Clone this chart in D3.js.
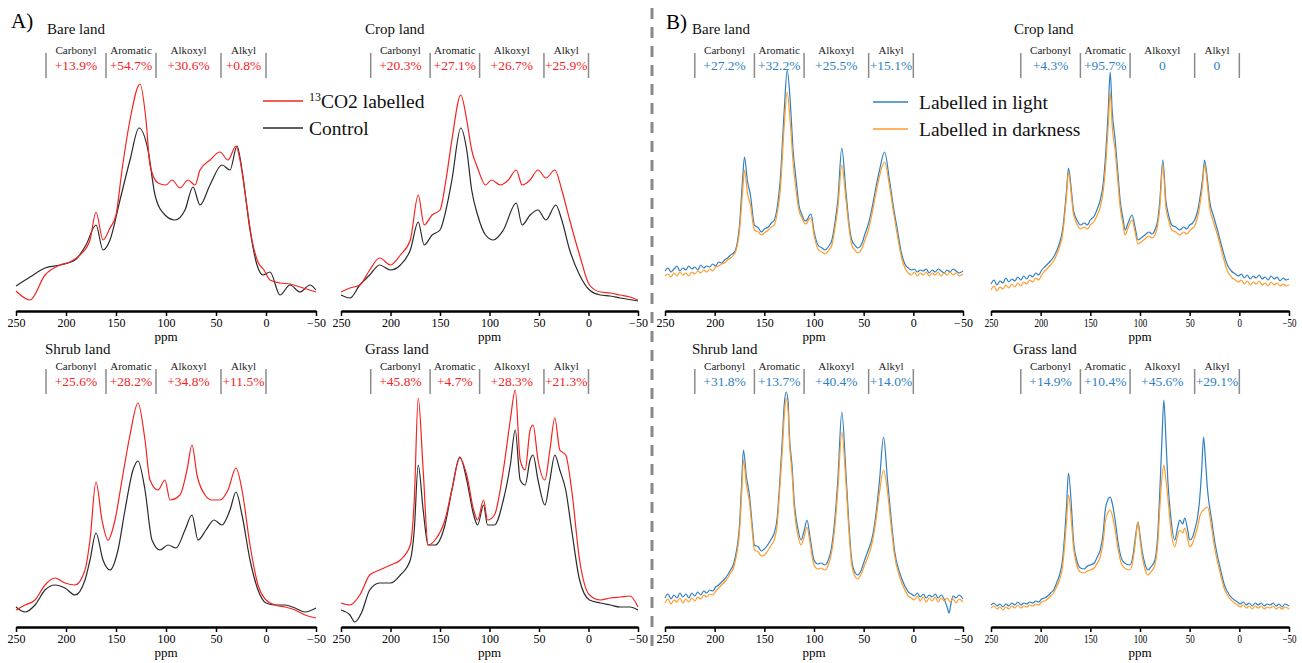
<!DOCTYPE html>
<html><head><meta charset="utf-8">
<script src="https://cdn.jsdelivr.net/npm/d3@7"></script>
<style>body{margin:0;background:#fff} svg{display:block} text{font-family:"Liberation Serif","Times New Roman",serif}</style>
</head><body><svg id="c" width="1302" height="663"></svg>
<script>
// ---------- data ----------
const tickValues = [250, 200, 150, 100, 50, 0, -50];
const regionNames = ["Carbonyl", "Aromatic", "Alkoxyl", "Alkyl"];
const regionBounds = [220, 160, 110, 45, 0];

const pctBareA  = ["+13.9%", "+54.7%", "+30.6%", "+0.8%"];
const pctCropA  = ["+20.3%", "+27.1%", "+26.7%", "+25.9%"];
const pctShrubA = ["+25.6%", "+28.2%", "+34.8%", "+11.5%"];
const pctGrassA = ["+45.8%", "+4.7%", "+28.3%", "+21.3%"];
const pctBareB  = ["+27.2%", "+32.2%", "+25.5%", "+15.1%"];
const pctCropB  = ["+4.3%", "+95.7%", "0", "0"];
const pctShrubB = ["+31.8%", "+13.7%", "+40.4%", "+14.0%"];
const pctGrassB = ["+14.9%", "+10.4%", "+45.6%", "+29.1%"];

// spectra as [ppm, intensity]
const bareLabelled = [[250,20],[236,11],[221,36],[206,46],[196,49],[186,56],[176,71],[170,99],[163,71],[156,83],[150,96],[144,141],[136,191],[126,227],[120,191],[116,146],[108,128],[100,126],[94,131],[86,123],[78,131],[71,126],[66,141],[56,151],[46,159],[38,151],[30,165],[26,151],[20,111],[14,71],[8,49],[2,41],[-4,31],[-14,28],[-24,27],[-34,24],[-50,19]];
const bareControl = [[250,25],[236,34],[221,43],[206,46],[191,51],[180,66],[170,86],[163,61],[156,71],[146,111],[136,151],[127,183],[118,161],[111,116],[101,96],[91,91],[81,101],[73,124],[66,106],[56,126],[44,146],[36,141],[29,165],[24,141],[16,81],[9,46],[3,36],[-4,39],[-14,16],[-24,26],[-34,19],[-44,26],[-50,21]];
const cropLabelled = [[250,19],[241,23],[231,26],[221,41],[211,53],[200,46],[190,56],[180,71],[172,116],[166,86],[158,96],[150,101],[144,131],[138,171],[129,216],[123,191],[118,161],[112,143],[104,126],[98,131],[89,126],[81,131],[73,141],[67,126],[59,131],[51,141],[43,133],[34,141],[27,121],[19,91],[9,56],[-1,26],[-12,19],[-22,18],[-32,16],[-42,14],[-50,11]];
const cropControl = [[250,16],[241,13],[231,26],[221,36],[211,46],[200,41],[190,46],[180,61],[172,89],[166,66],[158,76],[150,81],[144,101],[138,131],[129,183],[123,161],[118,121],[112,96],[104,76],[96,71],[86,81],[73,108],[67,86],[59,96],[51,101],[43,91],[33,106],[27,91],[19,61],[9,36],[-1,21],[-12,16],[-22,15],[-32,13],[-50,10]];
const shrubLabelled = [[250,17],[241,22],[231,27],[221,42],[211,49],[201,44],[191,42],[181,57],[176,87],[170,145],[164,107],[158,87],[151,107],[144,147],[136,192],[128,224],[121,187],[116,147],[108,137],[101,147],[96,127],[86,132],[79,157],[74,182],[69,152],[61,132],[54,127],[46,127],[38,137],[30,159],[24,137],[16,82],[8,42],[0,27],[-9,22],[-19,20],[-29,17],[-39,12],[-50,9]];
const shrubControl = [[250,20],[241,15],[231,22],[221,37],[211,42],[201,39],[191,32],[181,47],[176,67],[170,94],[163,67],[156,57],[148,77],[141,117],[133,157],[128,166],[121,137],[114,87],[106,77],[98,82],[90,79],[81,97],[74,112],[68,87],[60,97],[52,107],[44,102],[36,117],[30,135],[24,112],[16,67],[8,37],[0,24],[-9,22],[-19,22],[-29,19],[-39,15],[-50,19]];
const grassLabelled = [[250,24],[241,22],[231,32],[221,52],[211,57],[200,62],[190,67],[180,82],[176,127],[172,229],[167,157],[162,82],[155,87],[145,107],[138,137],[130,169],[123,152],[116,117],[112,107],[106,127],[102,107],[95,112],[86,157],[79,207],[74,237],[69,167],[64,157],[59,197],[56,202],[51,167],[44,147],[39,177],[34,209],[29,177],[23,172],[17,137],[9,67],[-1,32],[-12,27],[-22,29],[-32,30],[-42,31],[-50,20]];
const grassControl = [[250,17],[241,12],[236,5],[229,15],[221,37],[211,44],[200,44],[190,52],[180,67],[176,97],[172,162],[167,117],[162,82],[155,82],[145,102],[138,137],[130,170],[123,147],[116,112],[112,102],[106,122],[102,102],[95,102],[86,127],[79,162],[74,197],[69,147],[64,142],[59,167],[56,172],[51,147],[44,122],[39,147],[34,172],[29,157],[23,137],[17,97],[9,47],[-1,27],[-12,24],[-22,22],[-32,20],[-42,20],[-50,17]];

const bareLight = [[250,40],[247,43],[244,39],[241,42],[238,45],[235,40],[232,43],[229,41],[226,45],[223,42],[220,44],[217,41],[214,46],[211,43],[208,45],[205,44],[202,47],[199,45],[196,49],[193,48],[190,51],[187,53],[184,56],[181,58],[179,61],[175,86],[172,130],[170,154],[167,130],[164,116],[160,86],[156,83],[153,79],[150,82],[146,84],[143,88],[140,91],[137,104],[134,131],[130,200],[127,241],[124,211],[121,160],[118,131],[115,105],[112,96],[109,90],[107,91],[105,95],[103,97],[100,80],[96,66],[92,63],[89,61],[85,65],[82,71],[79,88],[76,111],[72,163],[68,121],[65,90],[62,71],[59,66],[56,63],[52,67],[49,76],[45,88],[42,101],[38,122],[34,141],[29,159],[24,131],[20,104],[16,81],[12,58],[8,46],[5,43],[2,41],[-1,42],[-4,39],[-7,41],[-10,40],[-13,42],[-16,38],[-19,41],[-22,39],[-25,42],[-28,40],[-31,38],[-34,41],[-37,39],[-40,42],[-43,40],[-46,38],[-50,40]];
const bareDark = [[250,35],[247,37],[244,34],[241,38],[238,35],[235,39],[232,36],[229,38],[226,35],[223,39],[220,37],[217,40],[214,38],[211,41],[208,39],[205,42],[202,40],[199,44],[196,45],[193,47],[190,48],[187,51],[184,53],[181,56],[179,59],[175,80],[172,118],[170,141],[167,118],[164,106],[160,81],[156,79],[153,76],[150,78],[146,81],[143,84],[140,86],[137,98],[134,120],[130,185],[127,219],[124,190],[121,148],[118,120],[115,100],[112,93],[109,87],[107,88],[105,92],[103,93],[100,76],[96,62],[92,59],[89,57],[85,61],[82,66],[79,82],[76,103],[72,146],[68,113],[65,85],[62,66],[59,61],[56,58],[52,62],[49,70],[45,82],[42,95],[38,116],[34,135],[29,149],[24,125],[20,99],[16,75],[12,54],[8,42],[5,38],[2,36],[-1,39],[-4,35],[-7,38],[-10,36],[-13,39],[-16,35],[-19,38],[-22,36],[-25,39],[-28,35],[-31,38],[-34,36],[-37,39],[-40,36],[-43,38],[-46,35],[-50,37]];
const cropLight = [[250,27],[247,31],[244,26],[241,30],[238,28],[235,33],[232,29],[229,32],[226,30],[223,34],[220,31],[217,35],[214,32],[211,36],[208,34],[205,38],[202,36],[199,41],[196,44],[193,47],[190,50],[187,54],[184,60],[181,68],[178,81],[174,120],[172,143],[169,120],[167,101],[163,90],[160,86],[156,88],[153,86],[150,91],[146,95],[143,102],[140,111],[137,128],[135,151],[132,200],[130,239],[128,200],[125,171],[122,135],[120,111],[117,92],[115,81],[112,88],[108,96],[105,84],[102,71],[99,73],[95,76],[91,79],[88,77],[85,81],[82,92],[80,111],[77,151],[74,111],[71,95],[68,86],[64,84],[60,81],[56,84],[53,82],[50,86],[47,88],[45,91],[42,100],[40,111],[37,132],[35,151],[32,130],[30,111],[26,95],[22,81],[17,62],[12,46],[8,40],[4,37],[1,35],[-2,37],[-5,33],[-8,36],[-11,32],[-14,35],[-17,33],[-20,36],[-23,32],[-26,34],[-29,31],[-32,35],[-35,32],[-38,34],[-41,30],[-44,33],[-47,31],[-50,32]];
const cropDark = [[250,21],[247,25],[244,20],[241,24],[238,22],[235,26],[232,23],[229,27],[226,24],[223,28],[220,25],[217,29],[214,27],[211,31],[208,29],[205,33],[202,31],[199,36],[196,40],[193,43],[190,46],[187,50],[184,56],[181,64],[178,76],[174,115],[172,139],[169,115],[167,97],[163,86],[160,82],[156,84],[153,82],[150,86],[146,90],[143,96],[140,104],[137,120],[135,140],[132,185],[130,219],[128,185],[125,160],[122,126],[120,104],[117,86],[115,76],[112,83],[108,91],[105,79],[102,67],[99,69],[95,72],[91,75],[88,73],[85,76],[82,87],[80,104],[77,146],[74,104],[71,90],[68,81],[64,79],[60,76],[56,79],[53,77],[50,80],[47,83],[45,85],[42,94],[40,104],[37,126],[35,146],[32,124],[30,104],[26,89],[22,76],[17,57],[12,40],[8,34],[4,31],[1,29],[-2,31],[-5,27],[-8,30],[-11,26],[-14,29],[-17,27],[-20,30],[-23,26],[-26,28],[-29,25],[-32,29],[-35,26],[-38,28],[-41,25],[-44,27],[-47,25],[-50,26]];
const shrubLight = [[250,29],[247,33],[244,28],[241,32],[238,29],[235,34],[232,30],[229,33],[226,29],[223,34],[220,31],[217,35],[214,32],[211,36],[208,34],[205,37],[202,36],[199,40],[196,42],[193,45],[190,48],[187,52],[184,57],[181,63],[180,67],[175,102],[173,140],[171,177],[168,150],[165,132],[162,100],[160,82],[156,80],[153,76],[150,78],[146,83],[143,88],[140,94],[137,110],[135,137],[132,185],[130,222],[128,235],[126,225],[125,197],[122,160],[120,127],[116,97],[113,87],[110,96],[107,107],[104,90],[100,67],[96,63],[93,64],[89,62],[86,66],[82,82],[79,108],[76,147],[72,215],[68,157],[65,105],[62,67],[59,55],[56,52],[52,58],[49,67],[45,78],[42,87],[38,110],[34,147],[30,190],[26,147],[22,105],[19,77],[14,55],[9,42],[5,35],[2,33],[-1,31],[-4,34],[-7,30],[-10,33],[-13,29],[-16,32],[-19,30],[-22,33],[-25,29],[-28,32],[-31,28],[-34,20],[-36,14],[-38,24],[-40,31],[-43,29],[-46,32],[-50,28]];
const shrubDark = [[250,24],[247,28],[244,23],[241,27],[238,25],[235,29],[232,24],[229,28],[226,25],[223,29],[220,26],[217,30],[214,28],[211,32],[208,30],[205,33],[202,32],[199,36],[196,39],[193,42],[190,45],[187,49],[184,54],[181,59],[180,63],[175,95],[173,130],[171,167],[168,142],[165,125],[162,94],[160,77],[156,75],[153,71],[150,72],[146,77],[143,82],[140,87],[137,103],[135,130],[132,175],[130,210],[128,229],[126,215],[125,190],[122,152],[120,120],[116,91],[113,82],[110,90],[107,100],[104,84],[100,62],[96,58],[93,59],[89,57],[86,61],[82,76],[79,100],[76,137],[72,195],[68,147],[65,98],[62,62],[59,51],[56,48],[52,54],[49,62],[45,72],[42,82],[38,104],[34,135],[30,157],[26,135],[22,98],[19,72],[14,51],[9,38],[5,31],[2,29],[-1,27],[-4,31],[-7,26],[-10,30],[-13,25],[-16,29],[-19,26],[-22,30],[-25,25],[-28,29],[-31,26],[-34,29],[-37,25],[-40,28],[-43,24],[-46,28],[-50,25]];
const grassLight = [[250,22],[247,24],[244,21],[241,23],[238,20],[235,23],[232,21],[229,24],[226,22],[223,25],[220,22],[217,24],[214,23],[211,25],[208,24],[205,26],[202,25],[199,28],[196,29],[193,31],[190,34],[187,37],[184,44],[181,52],[178,67],[176,90],[174,120],[172,154],[169,120],[167,87],[164,68],[160,59],[156,58],[153,61],[150,62],[146,64],[143,70],[140,77],[137,95],[135,117],[132,128],[130,130],[128,124],[125,107],[122,84],[118,67],[114,63],[110,62],[107,72],[105,87],[102,105],[100,92],[98,77],[95,63],[92,57],[89,60],[85,67],[82,95],[80,137],[78,185],[76,227],[74,190],[72,147],[69,110],[65,87],[62,100],[60,107],[57,103],[55,109],[52,97],[50,87],[47,90],[45,97],[42,110],[40,127],[38,155],[36,190],[34,165],[32,137],[28,108],[25,87],[20,62],[15,42],[10,32],[5,27],[2,25],[-1,23],[-4,25],[-7,22],[-10,24],[-13,21],[-16,24],[-19,22],[-22,24],[-25,21],[-28,23],[-31,22],[-34,24],[-37,21],[-40,23],[-43,20],[-46,23],[-50,21]];
const grassDark = [[250,19],[247,21],[244,18],[241,20],[238,17],[235,20],[232,18],[229,21],[226,19],[223,22],[220,19],[217,21],[214,20],[211,22],[208,21],[205,23],[202,22],[199,25],[196,26],[193,28],[190,31],[187,34],[184,40],[181,47],[178,60],[176,80],[174,105],[172,132],[169,105],[167,80],[164,63],[160,55],[156,54],[153,56],[150,57],[146,59],[143,64],[140,70],[137,86],[135,105],[132,115],[130,117],[128,112],[125,97],[122,77],[118,62],[114,58],[110,57],[107,67],[105,82],[102,105],[100,88],[98,72],[95,58],[92,52],[89,55],[85,62],[82,85],[80,120],[78,148],[76,162],[74,148],[72,130],[69,98],[65,80],[62,92],[60,97],[57,94],[55,99],[52,88],[50,80],[47,84],[45,90],[42,100],[40,110],[38,115],[36,117],[34,119],[32,120],[28,100],[25,80],[20,57],[15,38],[10,29],[5,24],[2,22],[-1,20],[-4,22],[-7,19],[-10,21],[-13,18],[-16,21],[-19,19],[-22,21],[-25,18],[-28,20],[-31,19],[-34,21],[-37,18],[-40,20],[-43,18],[-46,20],[-50,18]];

// ---------- styles ----------
const RED = "#f5231f", BLACK = "#2a2a2a", BLUE = "#2f7fc1", ORANGE = "#ff9c2a", PCT_BLUE = "#2f7fc1";

const panels = [
  {title:"Bare land",  r:[16,316],   axisY:311, tx:47,   ty:34,  series:[[bareControl,BLACK],[bareLabelled,RED]],  pct:pctBareA,  pc:RED},
  {title:"Crop land",  r:[341,638],  axisY:311, tx:365,  ty:34,  series:[[cropControl,BLACK],[cropLabelled,RED]],  pct:pctCropA,  pc:RED},
  {title:"Shrub land", r:[16,316],   axisY:627, tx:45,   ty:354, series:[[shrubControl,BLACK],[shrubLabelled,RED]],pct:pctShrubA, pc:RED},
  {title:"Grass land", r:[341,638],  axisY:627, tx:365,  ty:354, series:[[grassControl,BLACK],[grassLabelled,RED]],pct:pctGrassA, pc:RED},
  {title:"Bare land",  r:[665,963],  axisY:311, tx:692,  ty:34,  series:[[bareLight,BLUE],[bareDark,ORANGE]],     pct:pctBareB,  pc:PCT_BLUE},
  {title:"Crop land",  r:[991,1289], axisY:311, tx:1014, ty:34,  series:[[cropLight,BLUE],[cropDark,ORANGE]],     pct:pctCropB,  pc:PCT_BLUE, narrow:true},
  {title:"Shrub land", r:[665,963],  axisY:627, tx:692,  ty:354, series:[[shrubLight,BLUE],[shrubDark,ORANGE]],   pct:pctShrubB, pc:PCT_BLUE},
  {title:"Grass land", r:[991,1289], axisY:627, tx:1013, ty:354, series:[[grassLight,BLUE],[grassDark,ORANGE]],   pct:pctGrassB, pc:PCT_BLUE, narrow:true}
];

const svg = d3.select("#c");

panels.forEach(p => {
  const x = d3.scaleLinear().domain([250, -50]).range(p.r);
  const y = d3.scaleLinear().domain([0, 240]).range([p.axisY, p.axisY - 240]);
  const g = svg.append("g");

  const line = d3.line().x(d => x(d[0])).y(d => y(d[1])).curve(d3.curveMonotoneX);
  p.series.forEach(([data, color]) => {
    g.append("path").datum(data).attr("d", line)
      .attr("fill", "none").attr("stroke", color).attr("stroke-width", 1.2)
      .attr("stroke-linejoin", "round");
  });

  const ax = g.append("g").attr("transform", `translate(0,${p.axisY})`)
    .call(d3.axisBottom(x).tickValues(tickValues).tickSizeOuter(0).tickSizeInner(5).tickPadding(2).tickFormat(d3.format("d")));
  ax.select(".domain").attr("stroke", "#000").attr("stroke-width", 2.5);
  ax.selectAll(".tick line").attr("stroke", "#000").attr("stroke-width", 1.5);
  ax.selectAll(".tick text").attr("fill", "#000").style("font-size", "12px")
    .style("font-family", '"Liberation Serif", serif');
  if (p.narrow) ax.selectAll(".tick text").attr("transform", "scale(0.75,1)");
  g.append("text").attr("x", x(100)).attr("y", p.axisY + 30).attr("text-anchor", "middle")
    .style("font-size", "13px").text("ppm");

  g.append("text").attr("x", p.tx).attr("y", p.ty).style("font-size", "15px").attr("fill", "#111").text(p.title);

  regionBounds.forEach(b => {
    g.append("line").attr("x1", x(b)).attr("x2", x(b))
      .attr("y1", p.axisY - 258).attr("y2", p.axisY - 233)
      .attr("stroke", "#8a8a8a").attr("stroke-width", 1.5);
  });
  regionNames.forEach((n, i) => {
    const cx = (x(regionBounds[i]) + x(regionBounds[i + 1])) / 2;
    g.append("text").attr("x", cx).attr("y", p.axisY - 257).attr("text-anchor", "middle")
      .style("font-size", "11px").attr("fill", "#222").text(n);
    g.append("text").attr("x", cx).attr("y", p.axisY - 241).attr("text-anchor", "middle")
      .style("font-size", "13.5px").attr("fill", p.pc).text(p.pct[i]);
  });
});

svg.append("text").attr("x", 11).attr("y", 28).style("font-size", "21px").text("A)");
svg.append("text").attr("x", 666).attr("y", 29).style("font-size", "21px").text("B)");

svg.append("line").attr("x1", 652).attr("x2", 652).attr("y1", 8).attr("y2", 650)
  .attr("stroke", "#8a8a8a").attr("stroke-width", 3).attr("stroke-dasharray", "11,8");

const legA = [[RED, "labelled", true], [BLACK, "Control", false]];
legA.forEach(([c, t, sup], i) => {
  const ly = 101 + i * 27;
  svg.append("line").attr("x1", 263).attr("x2", 303).attr("y1", ly).attr("y2", ly).attr("stroke", c).attr("stroke-width", 1.3);
  const tx = svg.append("text").attr("x", 309).attr("y", ly + 7).style("font-size", "19.5px").attr("fill", "#111");
  if (sup) {
    tx.append("tspan").style("font-size", "12px").attr("dy", -7).text("13");
    tx.append("tspan").attr("dy", 7).text("CO2 " + t);
  } else tx.text(t);
});
const legB = [[BLUE, "Labelled in light"], [ORANGE, "Labelled in darkness"]];
legB.forEach(([c, t], i) => {
  const ly = 102 + i * 27;
  svg.append("line").attr("x1", 873).attr("x2", 908).attr("y1", ly).attr("y2", ly).attr("stroke", c).attr("stroke-width", 1.3);
  svg.append("text").attr("x", 919).attr("y", ly + 7).style("font-size", "19.5px").attr("fill", "#111").text(t);
});
</script>
</body></html>
